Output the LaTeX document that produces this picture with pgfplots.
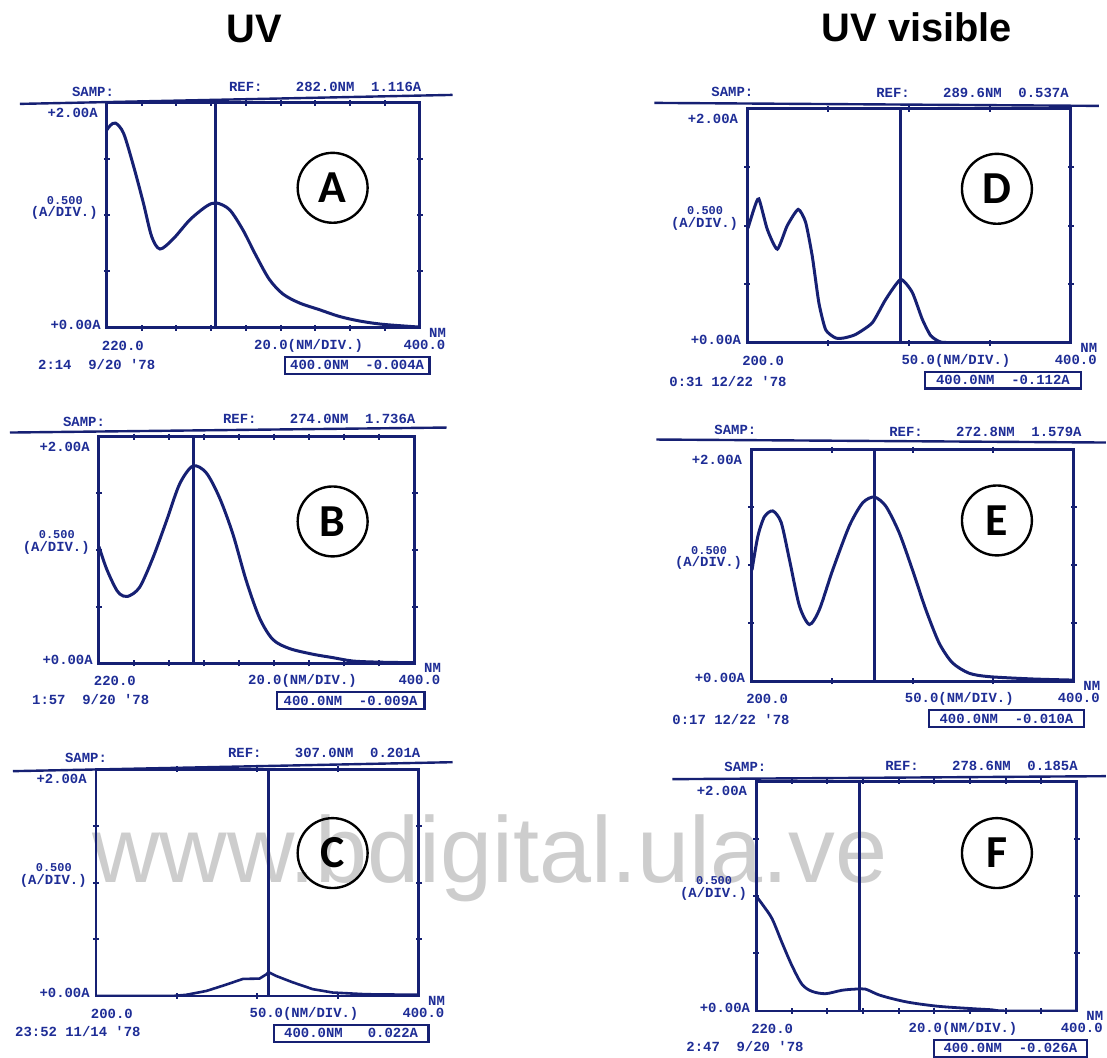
\documentclass[border=0pt]{standalone}
\usepackage{pgfplots}
\pgfplotsset{compat=1.18}
\usepackage{fontspec}
\setmainfont{Liberation Sans}
\newfontfamily\prt{Liberation Mono}
\newfontfamily\calf{Carlito}
\definecolor{ink}{RGB}{22,32,115}
\definecolor{txt}{RGB}{30,45,150}
\definecolor{wm}{RGB}{205,205,205}
\tikzset{prt/.style={font=\prt\bfseries\fontsize{14}{14}\selectfont, text=txt, inner sep=0pt}}
\pgfplotsset{spec/.style={scale only axis, ymin=0, ymax=2, ytick={0.5,1,1.5},
  xticklabels={}, yticklabels={}, axis line style={ink, line width=2.8bp},
  tick align=center, major tick length=6bp, tick style={ink, line width=2bp}, clip=true}}
\newcommand\annot[7]{%
 \node[prt,anchor=east] at ({#1-9},{#2+10}) {+2.00A};
 \node[prt,anchor=east,font=\prt\bfseries\fontsize{12}{12}\selectfont] at ({#1-24},{(#2+#4)/2-15}) {0.500};
 \node[prt,anchor=east] at ({#1-9},{(#2+#4)/2-2}) {(A/DIV.)};
 \node[prt,anchor=east] at ({#1-6},{#4-3}) {+0.00A};
 \node[prt] at ({#1+16},{#4+18}) {#5};
 \node[prt] at ({#1+0.645*(#3-#1)},{#4+18}) {#6};
 \node[prt,anchor=east] at ({#3+26},{#4+17}) {400.0};
 \node[prt] at ({#3+18},{#4+5}) {NM};
 \draw[ink, line width=2.2bp] ({#1+178},{#4+29}) rectangle ({#3+10},{#4+46});
 \node[prt] at ({(#1+178+#3+10)/2},{#4+37.5}) {#7};
}
\newcommand\circlab[3]{%
 \draw[black, line width=2.4bp] (#1,#2) circle (35bp);
 \node[font=\calf\bfseries\fontsize{46}{46}\selectfont] at (#1,#2) {#3};
}
\begin{document}
\begin{tikzpicture}
\begin{scope}[x=1bp,y=-1bp]
\fill[white] (0,0) rectangle (1107,1059);
\node[anchor=base west, inner sep=0pt, font=\fontsize{94}{94}\selectfont, text=wm] at (92,883) {www.bdigital.ula.ve};
\node[anchor=base, inner sep=0pt, font=\bfseries\fontsize{40}{40}\selectfont] at (254.5,43) {UV};
\node[anchor=base, inner sep=0pt, font=\bfseries\fontsize{40}{40}\selectfont] at (918,42) {UV visible};
\end{scope}

% ---------- A ----------
\begin{axis}[spec, at={(107bp,-328bp)}, anchor=south west, width=313bp, height=225bp,
  xmin=220, xmax=400, xtick={240,260,...,380}]
\addplot[ink, line width=3bp, smooth, tension=0.5] coordinates {
(220,1.76) (222,1.80) (225,1.82) (229.6,1.73) (235.3,1.44) (241,1.11) (245.8,0.81)
(250.6,0.70) (258.2,0.79) (267.8,0.96) (277.3,1.08) (283,1.11) (290.6,1.05) (298.3,0.87)
(305.9,0.64) (313.5,0.43) (321.3,0.30) (330.8,0.22) (342.3,0.16) (353.8,0.10) (365.2,0.06)
(378.6,0.03) (400,0.005)};
\addplot[ink, line width=2.6bp] coordinates {(282.5,0) (282.5,2)};
\end{axis}

% ---------- B ----------
\begin{axis}[spec, at={(99bp,-664bp)}, anchor=south west, width=316bp, height=227bp,
  xmin=220, xmax=400, xtick={240,260,...,380}]
\addplot[ink, line width=3bp, smooth, tension=0.5] coordinates {
(220,1.03) (224.2,0.84) (228.9,0.68) (232,0.61) (236.5,0.59) (243.2,0.67) (250.8,0.93)
(258.4,1.25) (266,1.58) (273.6,1.74) (281.2,1.68) (288.8,1.46) (296.4,1.14) (304,0.73)
(311.6,0.40) (319.2,0.21) (328.7,0.13) (342,0.08) (353.4,0.05) (364.8,0.02) (380,0.01) (400,0.005)};
\addplot[ink, line width=2.6bp] coordinates {(274,0) (274,2)};
\end{axis}

% ---------- C ----------
\begin{axis}[spec, at={(96bp,-997bp)}, anchor=south west, width=323bp, height=227bp,
  xmin=200, xmax=400, xtick={250,300,350}]
\addplot[ink, line width=2.6bp] coordinates {
(200,0) (247.8,0) (256,0.01) (268.5,0.044) (280.8,0.10) (291.1,0.15) (301.4,0.153)
(305.6,0.19) (307,0.21) (311.8,0.176) (322,0.12) (334.4,0.06) (346.8,0.03) (367.4,0.015) (400,0.01)};
\addplot[ink, line width=2.6bp] coordinates {(307,0) (307,2)};
\end{axis}

% ---------- D ----------
\begin{axis}[spec, at={(748bp,-343bp)}, anchor=south west, width=324bp, height=234bp,
  xmin=200, xmax=400, xtick={250,300,350}]
\addplot[ink, line width=3bp, smooth, tension=0.35] coordinates {
(200.5,0.98) (204.1,1.14) (207.2,1.23) (212.4,0.97) (218.6,0.80) (224.7,1.0) (231.5,1.14)
(236.1,1.03) (240.2,0.74) (244.3,0.34) (248.5,0.11) (254.6,0.04) (259.8,0.04) (267,0.07)
(277.3,0.17) (285.6,0.37) (294.8,0.54) (302,0.43) (308.2,0.20) (313.4,0.06) (319.6,0.005) (330,0)};
\addplot[ink, line width=2.6bp] coordinates {(294.8,0) (294.8,2)};
\end{axis}

% ---------- E ----------
\begin{axis}[spec, at={(752bp,-682bp)}, anchor=south west, width=323bp, height=232bp,
  xmin=200, xmax=400, xtick={250,300,350}]
\addplot[ink, line width=3bp, smooth, tension=0.45] coordinates {
(200.5,0.96) (204.1,1.25) (208.2,1.42) (213.4,1.47) (218.6,1.37) (223.7,1.05) (229.9,0.65)
(236.1,0.49) (242.3,0.62) (250.5,0.96) (260.8,1.34) (269.1,1.54) (276.3,1.59) (283.5,1.51)
(291.8,1.28) (300,0.96) (308.2,0.62) (316.5,0.33) (324.7,0.16) (335,0.07) (347.4,0.04)
(374.2,0.02) (400,0.01)};
\addplot[ink, line width=2.6bp] coordinates {(276.3,0) (276.3,2)};
\end{axis}

% ---------- F ----------
\begin{axis}[spec, at={(757bp,-1012bp)}, anchor=south west, width=321bp, height=230bp,
  xmin=220, xmax=400, xtick={240,260,...,380}]
\addplot[ink, line width=2.8bp, smooth, tension=0.5] coordinates {
(220,1.0) (224.3,0.91) (229,0.80) (234.6,0.59) (240.2,0.39) (245.8,0.23) (251.4,0.17)
(258.9,0.15) (268.2,0.18) (275.7,0.19) (281.3,0.19) (288.8,0.14) (298.1,0.10) (307.5,0.07)
(322.4,0.04) (341.1,0.02) (352.3,0.01) (359.8,0.0) (400,0)};
\addplot[ink, line width=2.6bp] coordinates {(277.9,0) (277.9,2)};
\end{axis}

\begin{scope}[x=1bp,y=-1bp]
% top lines
\draw[ink, line width=2.4bp] (20,104) -- (453,95);
\draw[ink, line width=2.4bp] (10,433) -- (447,428);
\draw[ink, line width=2.4bp] (13,772) -- (453,763);
\draw[ink, line width=2.4bp] (655,103) -- (1100,106);
\draw[ink, line width=2.4bp] (657,440) -- (1107,443);
\draw[ink, line width=2.4bp] (673,780) -- (1107,777);
% SAMP / REF
\node[prt,anchor=base west] at (72,97) {SAMP:};
\node[prt,anchor=base east] at (422,92) {REF:~~~~282.0NM~~1.116A};
\node[prt,anchor=base west] at (63,427) {SAMP:};
\node[prt,anchor=base east] at (416,424) {REF:~~~~274.0NM~~1.736A};
\node[prt,anchor=base west] at (65,763) {SAMP:};
\node[prt,anchor=base east] at (421,758) {REF:~~~~307.0NM~~0.201A};
\node[prt,anchor=base west] at (712,97) {SAMP:};
\node[prt,anchor=base east] at (1070,98) {REF:~~~~289.6NM~~0.537A};
\node[prt,anchor=base west] at (715,435) {SAMP:};
\node[prt,anchor=base east] at (1083,437) {REF:~~~~272.8NM~~1.579A};
\node[prt,anchor=base west] at (725,772) {SAMP:};
\node[prt,anchor=base east] at (1079,771) {REF:~~~~278.6NM~~0.185A};
% axis annotations
\annot{107}{103}{420}{328}{220.0}{20.0(NM/DIV.)}{400.0NM~~-0.004A}
\annot{99}{437}{415}{664}{220.0}{20.0(NM/DIV.)}{400.0NM~~-0.009A}
\annot{96}{770}{419}{997}{200.0}{50.0(NM/DIV.)}{400.0NM~~~0.022A}
\annot{748}{109}{1072}{343}{200.0}{50.0(NM/DIV.)}{400.0NM~~-0.112A}
\annot{752}{450}{1075}{682}{200.0}{50.0(NM/DIV.)}{400.0NM~~-0.010A}
\annot{757}{782}{1078}{1012}{220.0}{20.0(NM/DIV.)}{400.0NM~~-0.026A}
% dates
\node[prt,anchor=west] at (38,365) {2:14~~9/20~'78};
\node[prt,anchor=west] at (32,700) {1:57~~9/20~'78};
\node[prt,anchor=west] at (15,1033) {23:52~11/14~'78};
\node[prt,anchor=west] at (670,382) {0:31~12/22~'78};
\node[prt,anchor=west] at (673,720) {0:17~12/22~'78};
\node[prt,anchor=west] at (687,1048) {2:47~~9/20~'78};
% circle labels
\circlab{333}{188}{A}
\circlab{333}{522}{B}
\circlab{333}{854}{C}
\circlab{998}{189}{D}
\circlab{998}{521}{E}
\circlab{998}{854}{F}
\end{scope}
\end{tikzpicture}
\end{document}
